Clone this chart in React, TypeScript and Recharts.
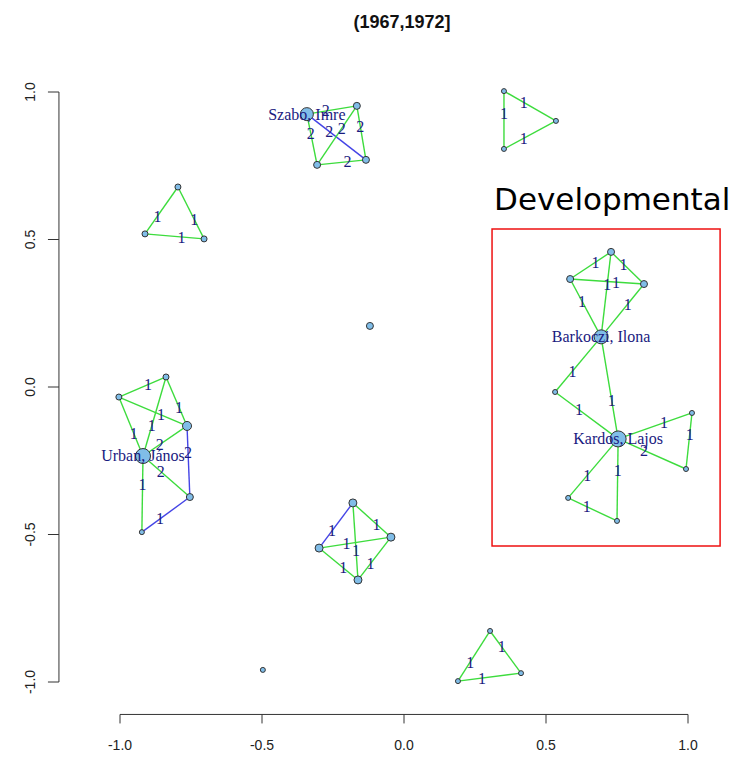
import { ScatterChart, Scatter, XAxis, YAxis, ReferenceLine, ReferenceArea } from 'recharts';

// vertices of the network (layout coordinates)
const nodeLabel = [
    'Szabo, Imre', '', '', '',
    '', '', '',
    '', '', '',
    '', '',
    'Urban, János', '', '', '', '', '',
    '', '', '', '',
    '', '', '',
    '', '', '', 'Barkoczi, Ilona', '', 'Kardos, Lajos', '', '', '', '',
];
const nodeX = [
    -0.342, -0.166, -0.134, -0.306,
    0.352, 0.535, 0.352,
    -0.796, -0.912, -0.704,
    -0.12, -0.497,
    -0.919, -1.004, -0.838, -0.764, -0.754, -0.923,
    -0.18, -0.046, -0.299, -0.162,
    0.303, 0.412, 0.19,
    0.729, 0.585, 0.845, 0.694, 0.532, 0.754, 1.014, 0.993, 0.578, 0.75,
];
const nodeY = [
    0.925, 0.953, 0.77, 0.753,
    1.003, 0.902, 0.807,
    0.678, 0.519, 0.502,
    0.207, -0.959,
    -0.234, -0.034, 0.034, -0.132, -0.373, -0.492,
    -0.393, -0.509, -0.546, -0.654,
    -0.827, -0.97, -0.997,
    0.458, 0.366, 0.349, 0.17, -0.017, -0.176, -0.088, -0.278, -0.376, -0.454,
];
// vertex size score
const nodeScore = [
    4, 1, 1, 1,
    0, 0, 0,
    0.5, 0.5, 0.5,
    1, 0,
    5, 0.5, 0.5, 2, 1, 0,
    1.5, 1.5, 1.5, 1.5,
    0, 0, 0,
    1, 1, 1, 4.5, 0, 5.5, 0, 0, 0, 0,
];

// ties: from / to / value / kind (g = green, b = blue)
const edgeFrom = [0, 0, 0, 1, 1, 2, 4, 6, 4, 8, 9, 9, 14, 15, 12, 15, 12, 12, 15, 12, 12, 17, 20, 19, 20, 21, 21, 21, 22, 24, 24, 25, 25, 25, 27, 26, 27, 29, 29, 30, 31, 31, 30, 33, 30, 33];
const edgeTo = [1, 3, 2, 3, 2, 3, 5, 5, 6, 7, 7, 8, 13, 13, 13, 14, 14, 15, 16, 16, 17, 16, 18, 18, 19, 18, 20, 19, 23, 22, 23, 26, 27, 28, 26, 28, 28, 28, 30, 28, 30, 32, 32, 30, 34, 34];
const edgeValue = [2, 2, 2, 2, 2, 2, 1, 1, 1, 1, 1, 1, 1, 1, 1, 1, 1, 2, 2, 2, 1, 1, 1, 1, 1, 1, 1, 1, 1, 1, 1, 1, 1, 1, 1, 1, 1, 1, 1, 1, 1, 1, 2, 1, 1, 1];
const edgeKind = ['g', 'g', 'b', 'g', 'g', 'g', 'g', 'g', 'g', 'g', 'g', 'g', 'g', 'g', 'g', 'g', 'g', 'g', 'b', 'g', 'g', 'b', 'b', 'g', 'g', 'g', 'g', 'g', 'g', 'g', 'g', 'g', 'g', 'g', 'g', 'g', 'g', 'g', 'g', 'g', 'g', 'g', 'g', 'g', 'g', 'g'];

const xTicks = [-1, -0.5, 0, 0.5, 1];
const yTicks = [-1, -0.5, 0, 0.5, 1];
const title = '(1967,1972]';
const boxLabel = 'Developmental';
const boxX = [0.31, 1.113];
const boxY = [-0.539, 0.536];

const W = 738;
const H = 759;
const X_DOMAIN = [-1.215, 1.15];
const Y_DOMAIN = [-1.11, 1.11];
const PX_X = 284;
const PX_Y = 295;
const PLOT_LEFT = 404 + X_DOMAIN[0] * PX_X;
const PLOT_W = (X_DOMAIN[1] - X_DOMAIN[0]) * PX_X;
const PLOT_TOP = 387 - Y_DOMAIN[1] * PX_Y;
const PLOT_H = (Y_DOMAIN[1] - Y_DOMAIN[0]) * PX_Y;
const Y_AXIS_W = 50;
const X_AXIS_H = 40;

const GREEN = '#3ddc3d';
const BLUE = '#4444e6';
const INK = '#1a1a80';
const AXIS = '#333';
const LABEL_T = 0.38;

const nodes = nodeX.map((x, i) => ({ x, y: nodeY[i], score: nodeScore[i], label: nodeLabel[i] }));
const edges = edgeFrom.map((f, i) => ({
    x1: nodeX[f],
    y1: nodeY[f],
    x2: nodeX[edgeTo[i]],
    y2: nodeY[edgeTo[i]],
    value: edgeValue[i],
    kind: edgeKind[i],
}));
const edgeLabels = edges.map((e) => ({
    x: e.x1 + (e.x2 - e.x1) * LABEL_T,
    y: e.y1 + (e.y2 - e.y1) * LABEL_T,
    text: String(e.value),
}));

const XTick = (p: any) => (
    <g>
        <line x1={p.x} x2={p.x} y1={p.y} y2={p.y + 9} stroke={AXIS} />
        <text x={p.x} y={p.y + 35.5} textAnchor="middle" fontSize={14} fontFamily="Liberation Sans, Arial, sans-serif" fill="#222">
            {Number(p.payload.value).toFixed(1)}
        </text>
    </g>
);

const YTick = (p: any) => {
    const bx = p.x - 24;
    return (
        <g>
            <line x1={p.x - 11} x2={p.x} y1={p.y} y2={p.y} stroke={AXIS} />
            <text x={bx} y={p.y} transform={`rotate(-90 ${bx} ${p.y})`} textAnchor="middle" fontSize={14} fontFamily="Liberation Sans, Arial, sans-serif" fill="#222">
                {Number(p.payload.value).toFixed(1)}
            </text>
        </g>
    );
};

const renderNode = (p: any) => (
    <circle cx={p.cx} cy={p.cy} r={2.5 + p.payload.score} fill="#80bde8" stroke="#333" strokeWidth={1} />
);

const renderEdgeLabel = (p: any) => (
    <text x={p.cx} y={p.cy + 5.5} textAnchor="middle" fontSize={16} fontFamily="Liberation Serif, Times New Roman, serif" fill={INK}>
        {p.payload.text}
    </text>
);

const renderVertexLabel = (p: any) => (
    <text x={p.cx} y={p.cy + 5.4} textAnchor="middle" fontSize={16} fontFamily="Liberation Serif, Times New Roman, serif" fill={INK}>
        {p.payload.label}
    </text>
);

export default function App() {
    return (
        <div style={{ position: 'relative', width: W, height: H, background: '#fff' }}>
            <style>{'body{margin:0}'}</style>
            <div
                style={{
                    position: 'absolute',
                    left: 402,
                    top: 12,
                    transform: 'translateX(-50%)',
                    fontFamily: 'Liberation Sans, Arial, sans-serif',
                    fontWeight: 'bold',
                    fontSize: 18,
                    color: '#111',
                    whiteSpace: 'nowrap',
                }}
            >
                {title}
            </div>
            <ScatterChart
                width={W}
                height={H}
                margin={{
                    left: PLOT_LEFT - Y_AXIS_W,
                    right: W - PLOT_LEFT - PLOT_W,
                    top: PLOT_TOP,
                    bottom: H - PLOT_TOP - PLOT_H - X_AXIS_H,
                }}
            >
                <XAxis
                    type="number"
                    dataKey="x"
                    domain={X_DOMAIN}
                    ticks={xTicks}
                    interval={0}
                    allowDataOverflow
                    axisLine={false}
                    tickLine={false}
                    tickSize={0}
                    tickMargin={0}
                    height={X_AXIS_H}
                    tick={XTick}
                />
                <YAxis
                    type="number"
                    dataKey="y"
                    domain={Y_DOMAIN}
                    ticks={yTicks}
                    interval={0}
                    allowDataOverflow
                    axisLine={false}
                    tickLine={false}
                    tickSize={0}
                    tickMargin={0}
                    width={Y_AXIS_W}
                    tick={YTick}
                />
                <ReferenceLine segment={[{ x: -1, y: Y_DOMAIN[0] }, { x: 1, y: Y_DOMAIN[0] }]} stroke={AXIS} ifOverflow="visible" />
                <ReferenceLine segment={[{ x: X_DOMAIN[0], y: -1 }, { x: X_DOMAIN[0], y: 1 }]} stroke={AXIS} ifOverflow="visible" />
                {edges.map((e, i) => (
                    <ReferenceLine
                        key={i}
                        segment={[{ x: e.x1, y: e.y1 }, { x: e.x2, y: e.y2 }]}
                        stroke={e.kind === 'b' ? BLUE : GREEN}
                        strokeWidth={1.4}
                        ifOverflow="visible"
                    />
                ))}
                <ReferenceArea
                    x1={boxX[0]}
                    x2={boxX[1]}
                    y1={boxY[0]}
                    y2={boxY[1]}
                    fill="none"
                    fillOpacity={0}
                    stroke="#ee1111"
                    strokeWidth={1.5}
                    ifOverflow="visible"
                    label={(p: any) => (
                        <text x={p.viewBox.x + 2} y={p.viewBox.y - 19} fontSize={31} fontFamily="DejaVu Sans, Verdana, sans-serif" fill="#000">
                            {boxLabel}
                        </text>
                    )}
                />
                <Scatter data={nodes} isAnimationActive={false} shape={renderNode} />
                <Scatter data={edgeLabels} isAnimationActive={false} shape={renderEdgeLabel} />
                <Scatter data={nodes.filter((n) => n.label)} isAnimationActive={false} shape={renderVertexLabel} />
            </ScatterChart>
        </div>
    );
}
